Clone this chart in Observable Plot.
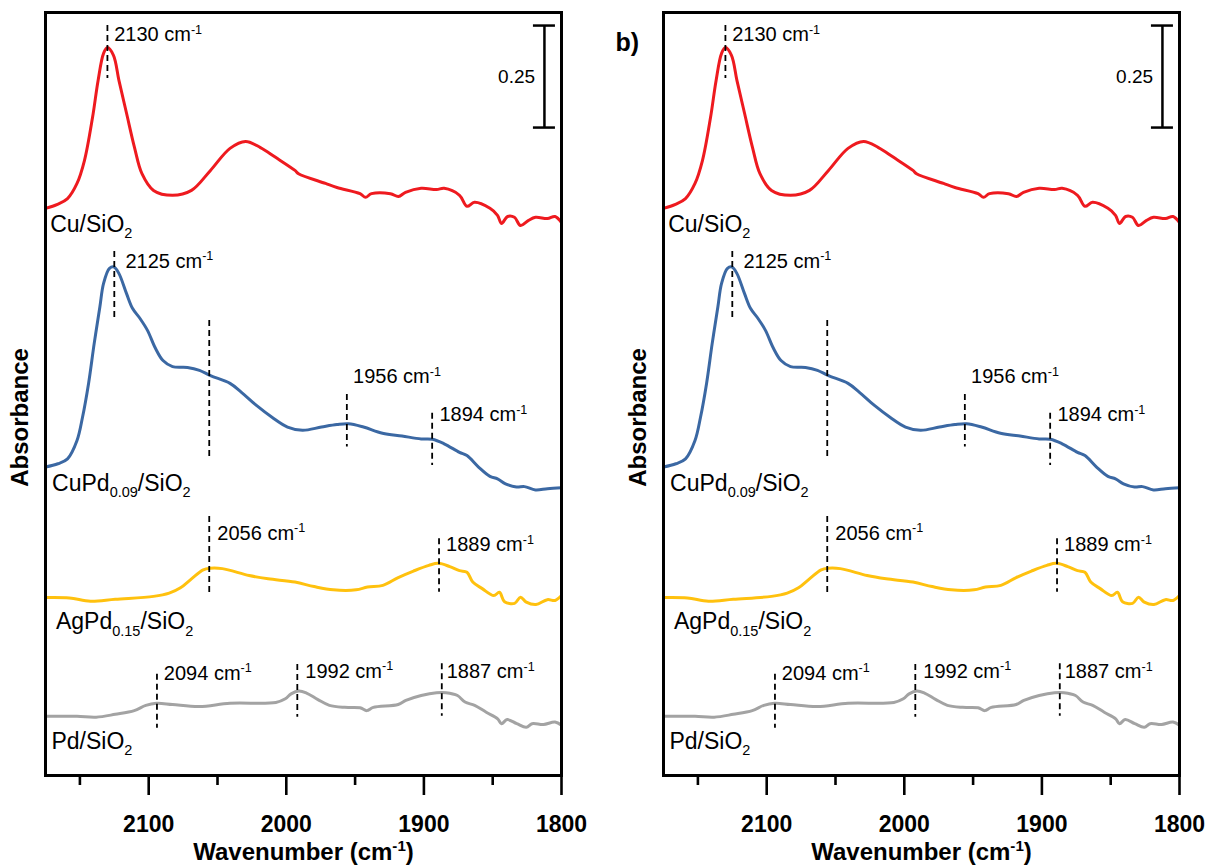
<!DOCTYPE html>
<html><head><meta charset="utf-8">
<script src="https://cdn.jsdelivr.net/npm/d3@7"></script>
<script src="https://cdn.jsdelivr.net/npm/@observablehq/plot@0.6"></script>
<style>
html,body{margin:0;padding:0;background:#fff;}
#wrap{position:relative;width:1207px;height:866px;overflow:hidden;}
#wrap svg{position:absolute;top:0;}
</style></head><body><div id="wrap"></div>
<script>
// ---- data (wavenumber in cm^-1, absorbance incl. stacking offset) ----
const seriesNames = ["Cu/SiO_{2}", "CuPd_{0.09}/SiO_{2}", "AgPd_{0.15}/SiO_{2}", "Pd/SiO_{2}"];
const seriesColors = ["#ee1a1f", "#3b68a3", "#ffc10e", "#a3a3a3"];

const cuWn = [2175, 2166.3, 2159.0, 2152.1, 2146.7, 2140.8, 2136.8, 2132.8, 2130, 2125.6, 2121.6, 2116.1, 2110.3, 2104.9, 2096.5, 2082.7, 2068.9, 2055.1, 2040.9, 2029.6, 2018.8, 2007.8, 1993.7, 1991.1, 1971.5, 1963.2, 1946.4, 1942.4, 1938.1, 1924.3, 1918.5, 1913.4, 1902.0, 1890.8, 1885.3, 1874.1, 1868.7, 1863.2, 1852.0, 1846.5, 1843.6, 1839.2, 1834.2, 1829.8, 1824.2, 1818.9, 1810.2, 1804.7, 1800];
const cuAbs = [1.390, 1.400, 1.414, 1.451, 1.507, 1.613, 1.703, 1.770, 1.784, 1.765, 1.703, 1.623, 1.539, 1.475, 1.434, 1.422, 1.434, 1.483, 1.537, 1.554, 1.539, 1.515, 1.483, 1.475, 1.451, 1.441, 1.426, 1.417, 1.426, 1.426, 1.419, 1.429, 1.439, 1.436, 1.439, 1.422, 1.395, 1.405, 1.390, 1.373, 1.353, 1.370, 1.368, 1.348, 1.360, 1.368, 1.365, 1.370, 1.355];

const cupdWn = [2175, 2166.0, 2159.0, 2152.1, 2148.1, 2143.7, 2139.6, 2135.5, 2132.8, 2128.5, 2125.1, 2121.6, 2116.1, 2111.8, 2106.3, 2100.9, 2095.1, 2089.6, 2082.7, 2071.8, 2063.1, 2055.1, 2040.9, 2032.6, 2021.7, 2010.4, 1999.1, 1988.2, 1974.4, 1963.2, 1954.8, 1943.9, 1930.1, 1915.9, 1902.0, 1893.8, 1885.3, 1874.1, 1868.7, 1860.3, 1852.0, 1846.5, 1840.7, 1832.7, 1826.9, 1818.9, 1810.2, 1800];
const cupdAbs = [0.756, 0.764, 0.776, 0.821, 0.878, 0.961, 1.059, 1.148, 1.206, 1.243, 1.246, 1.230, 1.181, 1.145, 1.120, 1.091, 1.047, 1.017, 1.002, 1.000, 0.993, 0.980, 0.961, 0.939, 0.907, 0.878, 0.854, 0.846, 0.854, 0.860, 0.862, 0.854, 0.839, 0.832, 0.825, 0.824, 0.813, 0.792, 0.784, 0.756, 0.733, 0.727, 0.715, 0.707, 0.708, 0.700, 0.703, 0.705];

const agpdWn = [2175, 2157.6, 2142.3, 2124.3, 2096.5, 2085.1, 2076.9, 2068.9, 2060.4, 2055.4, 2046.5, 2027.0, 2013.2, 1993.7, 1979.8, 1965.9, 1949.3, 1941.0, 1929.8, 1918.7, 1907.6, 1896.4, 1889.5, 1881.2, 1874.1, 1868.7, 1864.5, 1857.6, 1849.2, 1845.1, 1841.4, 1834.1, 1829.8, 1825.6, 1818.6, 1810.3, 1804.7, 1800];
const agpdAbs = [0.436, 0.435, 0.427, 0.432, 0.439, 0.447, 0.460, 0.482, 0.504, 0.508, 0.507, 0.490, 0.482, 0.474, 0.463, 0.455, 0.455, 0.462, 0.466, 0.485, 0.501, 0.515, 0.520, 0.512, 0.502, 0.498, 0.474, 0.458, 0.441, 0.449, 0.426, 0.422, 0.437, 0.425, 0.419, 0.431, 0.429, 0.441];

const pdWn = [2175, 2152.1, 2138.2, 2124.3, 2110.5, 2102.1, 2094.3, 2082.7, 2063.2, 2040.9, 2007.6, 2000.7, 1996.5, 1990.9, 1985.3, 1977.0, 1968.7, 1957.6, 1946.4, 1941.5, 1936.8, 1918.7, 1913.1, 1902.0, 1890.8, 1883.9, 1875.6, 1870.1, 1863.1, 1854.7, 1846.4, 1843.6, 1839.5, 1832.5, 1825.6, 1821.4, 1813.1, 1804.7, 1800];
const pdAbs = [0.145, 0.145, 0.143, 0.150, 0.159, 0.172, 0.177, 0.174, 0.169, 0.177, 0.179, 0.188, 0.200, 0.207, 0.202, 0.186, 0.172, 0.167, 0.166, 0.159, 0.167, 0.174, 0.184, 0.196, 0.203, 0.203, 0.196, 0.180, 0.172, 0.155, 0.139, 0.127, 0.137, 0.127, 0.118, 0.127, 0.125, 0.131, 0.123];

const sampleLabelWn = [2171.6, 2170.2, 2167.4, 2170.7];
const sampleLabelAbs = [1.332, 0.697, 0.358, 0.066];

// dashed peak markers
const markerWn = [2130, 2125, 2056, 1956, 1894, 2056, 1889, 2094, 1992, 1887];
const markerTop = [1.838, 1.284, 1.115, 0.934, 0.888, 0.635, 0.580, 0.248, 0.272, 0.274];
const markerBottom = [1.708, 1.120, 0.772, 0.805, 0.760, 0.441, 0.449, 0.116, 0.143, 0.145];

// peak labels
const peakLabels = ["2130 cm^{-1}", "2125 cm^{-1}", "1956 cm^{-1}", "1894 cm^{-1}", "2056 cm^{-1}", "1889 cm^{-1}", "2094 cm^{-1}", "1992 cm^{-1}", "1887 cm^{-1}"];
const peakLabelWn = [2125.1, 2116.9, 1951.5, 1888.7, 2050.1, 1883.9, 2089.0, 1986.2, 1883.4];
const peakLabelAbs = [1.800, 1.245, 0.961, 0.868, 0.578, 0.549, 0.235, 0.240, 0.238];

// scale bar
const scaleBarValue = 0.25;
const scaleBarWn = 1812.4;
const scaleBarTop = 1.838;
const scaleBarCapWn = [1820.4, 1804.4];
const scaleBarLabelWn = 1819.2;

// axes
const xDomain = [2175, 1800];
const yDomain = [0, 1.87];
const majorTicks = [2100, 2000, 1900, 1800];
const minorTicks = [2150, 2050, 1950, 1850];
const xTitle = "Wavenumber (cm^{-1})";
const yTitle = "Absorbance";

// ---- build table ----
const seriesWn = [cuWn, cupdWn, agpdWn, pdWn];
const seriesAbs = [cuAbs, cupdAbs, agpdAbs, pdAbs];
const spectra = seriesNames.flatMap((name, i) => seriesWn[i].map((wn, j) => ({name, wn, a: seriesAbs[i][j]})));
const samples = seriesNames.map((name, i) => ({name, wn: sampleLabelWn[i], a: sampleLabelAbs[i]}));
const markers = markerWn.map((wn, i) => ({wn, y1: markerTop[i], y2: markerBottom[i]}));
const labels = peakLabels.map((t, i) => ({t, wn: peakLabelWn[i], a: peakLabelAbs[i]}));
const scaleBar = [{wn: scaleBarWn, y1: scaleBarTop, y2: scaleBarTop - scaleBarValue}];
const scaleCaps = [scaleBarTop, scaleBarTop - scaleBarValue].map(a => ({a, x1: scaleBarCapWn[0], x2: scaleBarCapWn[1]}));
const scaleLabel = [{wn: scaleBarLabelWn, a: scaleBarTop - scaleBarValue / 2, t: String(scaleBarValue)}];

const FONT = "'Liberation Sans', Arial, Helvetica, sans-serif";
const PLOT_H = 866, M_TOP = 12, M_BOTTOM = 91;
const FRAME_H = PLOT_H - M_TOP - M_BOTTOM;

function makePanel(tag) {
  const marks = [
    Plot.line(spectra, {x: "wn", y: "a", z: "name", stroke: "name", strokeWidth: 3, curve: "catmull-rom", strokeLinejoin: "round"}),
    Plot.ruleX(markers, {x: "wn", y1: "y1", y2: "y2", stroke: "black", strokeWidth: 1.8, strokeDasharray: "6,4"}),
    Plot.text(labels, {x: "wn", y: "a", text: "t", textAnchor: "start", lineAnchor: "bottom", fontSize: 20, fill: "black"}),
    Plot.text(samples, {x: "wn", y: "a", text: "name", textAnchor: "start", lineAnchor: "bottom", fontSize: 23, fill: "black"}),
    Plot.ruleX(scaleBar, {x: "wn", y1: "y1", y2: "y2", stroke: "black", strokeWidth: 2.5}),
    Plot.ruleY(scaleCaps, {y: "a", x1: "x1", x2: "x2", stroke: "black", strokeWidth: 2.5}),
    Plot.text(scaleLabel, {x: "wn", y: "a", text: "t", textAnchor: "end", lineAnchor: "middle", fontSize: 19, fill: "black"}),
    // outward tick marks below the frame
    Plot.ruleX(majorTicks, {x: d => d, insetTop: FRAME_H, insetBottom: -20, stroke: "black", strokeWidth: 2.6}),
    Plot.ruleX(minorTicks, {x: d => d, insetTop: FRAME_H, insetBottom: -10, stroke: "black", strokeWidth: 2.6}),
    Plot.frame({stroke: "black", strokeWidth: 3}),
    Plot.axisX(majorTicks, {tickSize: 0, tickPadding: 40, fontSize: 23, fontWeight: "bold", label: null, tickFormat: d => String(d)}),
    Plot.text([xTitle], {text: d => d, frameAnchor: "bottom", dy: 84, lineAnchor: "bottom", textAnchor: "middle", fontSize: 24, fontWeight: "bold", fill: "black"}),
    Plot.text([yTitle], {text: d => d, frameAnchor: "left", rotate: -90, dx: -25, dy: 23.5, lineAnchor: "middle", textAnchor: "middle", fontSize: 24, fontWeight: "bold", fill: "black"})
  ];
  if (tag) marks.push(Plot.text([tag], {text: d => d, frameAnchor: "top-left", dx: -48, dy: 38, textAnchor: "start", lineAnchor: "bottom", fontSize: 25, fontWeight: "bold", fill: "black"}));
  return Plot.plot({
    width: 589, height: PLOT_H,
    marginLeft: 45, marginRight: 28, marginTop: M_TOP, marginBottom: M_BOTTOM,
    x: {domain: xDomain},
    y: {domain: yDomain, axis: null},
    color: {domain: seriesNames, range: seriesColors},
    style: {fontFamily: FONT, color: "black", background: "white", overflow: "visible"},
    marks
  });
}

function richText(svg) {
  const ns = "http://www.w3.org/2000/svg";
  svg.querySelectorAll("text").forEach(t => {
    const s = t.textContent;
    if (!/[\^_]\{/.test(s)) return;
    const fs = parseFloat(getComputedStyle(t).fontSize) || 20;
    while (t.firstChild) t.removeChild(t.firstChild);
    const re = /([\^_])\{([^}]*)\}/g;
    let last = 0, m, shift = 0;
    const push = (txt, kind) => {
      const sp = document.createElementNS(ns, "tspan");
      const target = kind === "^" ? -0.36 * fs : kind === "_" ? 0.27 * fs : 0;
      const d = target - shift;
      if (d) sp.setAttribute("dy", d.toFixed(2));
      shift = target;
      if (kind) sp.setAttribute("font-size", (0.63 * fs).toFixed(2));
      sp.textContent = txt;
      t.appendChild(sp);
    };
    while ((m = re.exec(s))) {
      if (m.index > last) push(s.slice(last, m.index), null);
      push(m[2], m[1]);
      last = re.lastIndex;
    }
    if (last < s.length) push(s.slice(last), null);
  });
}

const wrap = document.getElementById("wrap");
const a = makePanel(null);
a.style.left = "0px";
wrap.appendChild(a);
const b = makePanel("b)");
b.style.left = "618px";
wrap.appendChild(b);
richText(a);
richText(b);
</script></body></html>
